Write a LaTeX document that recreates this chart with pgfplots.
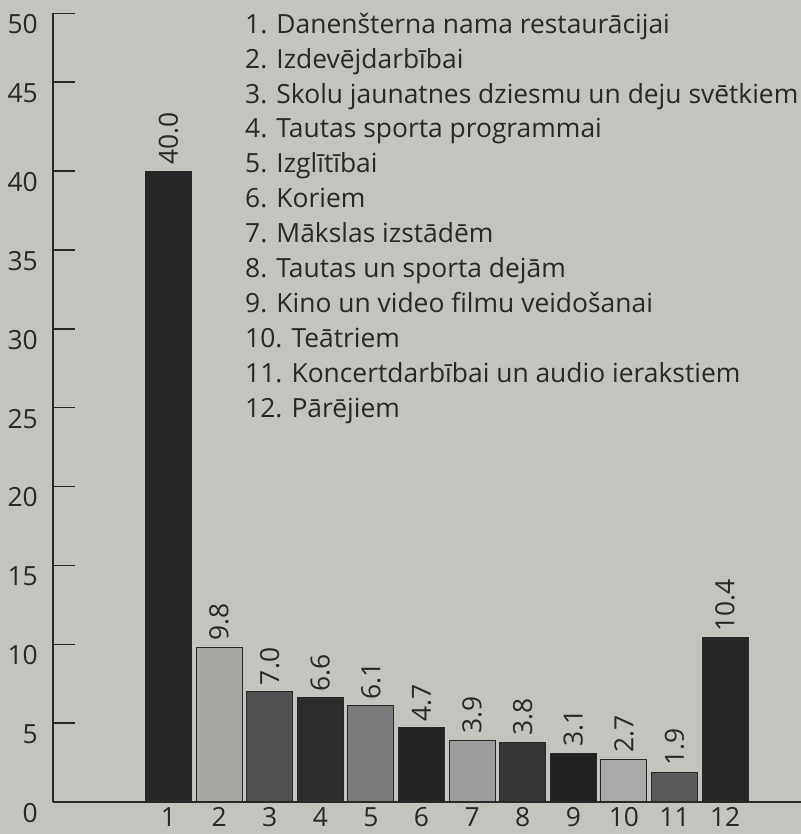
\documentclass[border=0pt]{standalone}
\usepackage{fontspec}
\setmainfont{Open Sans}
\usepackage{pgfplots}
\pgfplotsset{compat=1.18}
\definecolor{bgc}{RGB}{194,197,189}
\definecolor{txt}{RGB}{40,40,40}
\definecolor{c1}{RGB}{38,38,38}
\definecolor{c2}{RGB}{166,168,164}
\definecolor{c3}{RGB}{80,80,80}
\definecolor{c4}{RGB}{45,45,45}
\definecolor{c5}{RGB}{124,124,124}
\definecolor{c6}{RGB}{35,35,35}
\definecolor{c7}{RGB}{157,157,157}
\definecolor{c8}{RGB}{53,53,53}
\definecolor{c9}{RGB}{34,34,34}
\definecolor{c10}{RGB}{170,171,168}
\definecolor{c11}{RGB}{90,90,90}
\definecolor{c12}{RGB}{38,38,38}
\newcommand{\lbl}{\fontsize{26.5}{31}\selectfont}
\begin{document}
\begin{tikzpicture}
\useasboundingbox[fill=bgc] (-53bp,-32bp) rectangle (748bp,802bp);
\begin{axis}[
 scale only axis, width=748bp, height=788.7bp,
 xmin=-1.283, xmax=13.5, ymin=0, ymax=50,
 axis lines=left, axis line style={-, draw=txt},
 x axis line style={line width=2.5bp},
 y axis line style={line width=1.8bp},
 xtick={1,2,3,4,5,6,7,8,9,10,11,12}, xtick style={draw=none},
 xticklabels={1,2,3,4,5,6,7,8,9,10,11,12},
 ytick={0,5,10,15,20,25,30,35,40,45.65,50},
 yticklabels={0,5,10,15,20,25,30,35,40,45,50},
 tick align=inside, major tick length=22bp,
 ytick style={line width=1.5bp, draw=txt},
 yticklabel style={anchor=east, inner sep=0pt, xshift=-15bp, yshift=-11bp, font=\lbl, text=txt},
 xticklabel style={anchor=north, inner sep=0pt, text depth=0pt, yshift=-5bp, font=\lbl, text=txt},
 /pgf/number format/assume math mode=true,
 every axis plot/.append style={ybar, bar width=46bp, bar shift=0pt, draw=txt, line width=1bp},
 nodes near coords={\pgfmathprintnumber[fixed,fixed zerofill,precision=1,assume math mode=true]{\pgfplotspointmeta}},
 every node near coord/.append style={rotate=90, anchor=west, inner xsep=6bp, inner ysep=0pt, font=\lbl, text=txt},
 clip=false,
]
\addplot[fill=c1] coordinates {(1,40.0)};
\addplot[fill=c2] coordinates {(2,9.8)};
\addplot[fill=c3] coordinates {(3,7.0)};
\addplot[fill=c4] coordinates {(4,6.6)};
\addplot[fill=c5] coordinates {(5,6.1)};
\addplot[fill=c6] coordinates {(6,4.7)};
\addplot[fill=c7] coordinates {(7,3.9)};
\addplot[fill=c8] coordinates {(8,3.8)};
\addplot[fill=c9] coordinates {(9,3.1)};
\addplot[fill=c10] coordinates {(10,2.7)};
\addplot[fill=c11] coordinates {(11,1.9)};
\addplot[fill=c12] coordinates {(12,10.4)};
\end{axis}
\foreach \t [count=\i] in {
 1. Danenšterna nama restaurācijai,
 2. Izdevējdarbībai,
 3. Skolu jaunatnes dziesmu un deju svētkiem,
 4. Tautas sporta programmai,
 5. Izglītībai,
 6. Koriem,
 7. Mākslas izstādēm,
 8. Tautas un sporta dejām,
 9. Kino un video filmu veidošanai,
 10. Teātriem,
 11. Koncertdarbībai un audio ierakstiem,
 12. Pārējiem}
 \node[anchor=base west, inner sep=0pt, font=\lbl, text=txt] at (192bp, {768.7bp-(\i-1)*34.9bp}) {\t};
\end{tikzpicture}
\end{document}
